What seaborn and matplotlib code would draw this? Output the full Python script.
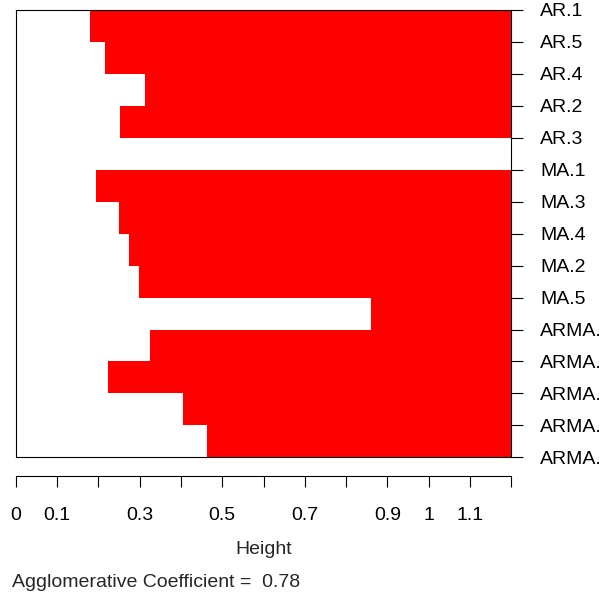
import matplotlib
matplotlib.use("Agg")
import matplotlib.pyplot as plt
import seaborn as sns
import numpy as np
import pandas as pd

# ---- data ----
labels = ["AR.1", "AR.5", "AR.4", "AR.2", "AR.3", "MA.1", "MA.3", "MA.4",
          "MA.2", "MA.5", "ARMA.", "ARMA.", "ARMA.", "ARMA.", "ARMA."]
merge_heights = [0.180, 0.216, 0.313, 0.253, 1.20, 0.194, 0.250, 0.274,
                 0.299, 0.860, 0.325, 0.223, 0.405, 0.463]
max_height = 1.2
x_ticks = [0, 0.1, 0.2, 0.3, 0.4, 0.5, 0.6, 0.7, 0.8, 0.9, 1.0, 1.1, 1.2]
x_tick_labels = ["0", "0.1", "", "0.3", "", "0.5", "", "0.7", "", "0.9", "1", "1.1", ""]
coef_text = "Agglomerative Coefficient =  0.78"

sns.set_style("white")
plt.rcParams["font.family"] = ["Liberation Sans", "DejaVu Sans"]
FS = 14.0

W, H = 605, 597
fig = plt.figure(figsize=(W / 100, H / 100), dpi=100)
left_px, right_px, top_px, bot_px = 15.7, 511.3, 10.0, 457.3
ax = fig.add_axes([left_px / W, (H - bot_px) / H,
                   (right_px - left_px) / W, (bot_px - top_px) / H])

df = pd.DataFrame({
    "gap": np.arange(len(merge_heights)),
    "full": [max_height] * len(merge_heights),
    "merge": merge_heights,
})

sns.barplot(data=df, x="full", y="gap", orient="h", native_scale=True,
            color="#FF0000", saturation=1, width=1.0, linewidth=0, ax=ax)
sns.barplot(data=df, x="merge", y="gap", orient="h", native_scale=True,
            color="white", saturation=1, width=1.0, linewidth=0, ax=ax)

n = len(labels)
ax.set_ylim(n - 1.5, -0.5)
ax.set_xlim(0, max_height)

for s in ["left", "top", "right", "bottom"]:
    ax.spines[s].set_visible(True)
    ax.spines[s].set_color("black")
    ax.spines[s].set_linewidth(0.8)
ax.spines["bottom"].set_position(("outward", 13.5))
ax.spines["bottom"].set_bounds(0, max_height)

# right label axis
ax.yaxis.tick_right()
ax.set_yticks(np.arange(n) - 0.5)
ax.set_yticklabels(labels)
ax.tick_params(axis="y", which="both", direction="out", length=8.6, width=0.8,
               pad=12, colors="black", left=False, right=True, labelsize=FS)
ax.set_ylabel("")

# bottom axis offset below the box
ax.set_xticks(x_ticks)
ax.set_xticklabels(x_tick_labels)
ax.tick_params(axis="x", direction="out", length=8, width=0.8, pad=14,
               colors="black", bottom=True, labelsize=FS)
ax.set_xlabel("")

# box bottom line
ax.plot([0, max_height], [n - 1.5, n - 1.5], color="black", lw=0.8,
        clip_on=False, zorder=5)

fig.text((left_px + right_px) / 2 / W, 1 - 553.7 / H, "Height",
         ha="center", va="baseline", fontsize=FS)
fig.text(12 / W, 1 - 586.7 / H, coef_text, ha="left", va="baseline", fontsize=FS)

fig.savefig("out.png", dpi=100)
